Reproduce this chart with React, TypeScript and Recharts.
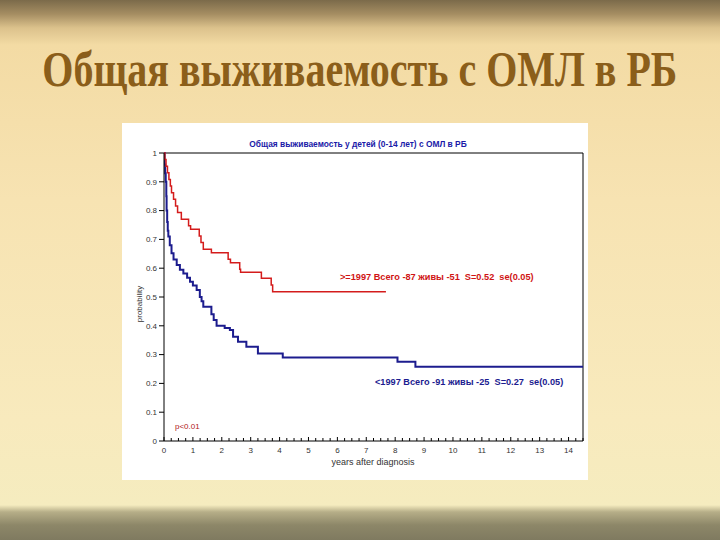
import React from 'react';
import { LineChart, Line, XAxis, YAxis, ReferenceLine } from 'recharts';

// >=1997 group (red), step survival estimates
const redYears = [0, 0.03, 0.07, 0.12, 0.17, 0.22, 0.26, 0.33, 0.4, 0.47, 0.6, 0.85, 0.92, 1.22, 1.28, 1.36, 1.64, 2.22, 2.3, 2.62, 2.65, 3.37, 3.71, 3.76, 7.68];
const redSurv = [1, 0.977, 0.954, 0.931, 0.908, 0.885, 0.862, 0.839, 0.816, 0.793, 0.77, 0.747, 0.735, 0.712, 0.689, 0.666, 0.654, 0.631, 0.619, 0.596, 0.586, 0.565, 0.542, 0.518, 0.518];

// <1997 group (blue)
const blueYears = [0, 0.02, 0.04, 0.06, 0.08, 0.09, 0.11, 0.13, 0.15, 0.2, 0.26, 0.33, 0.44, 0.55, 0.67, 0.8, 0.9, 1.0, 1.13, 1.24, 1.3, 1.36, 1.64, 1.72, 1.82, 2.1, 2.28, 2.39, 2.56, 2.85, 3.25, 4.11, 8.08, 8.7, 14.5];
const blueSurv = [1, 0.96, 0.93, 0.9, 0.85, 0.8, 0.76, 0.73, 0.71, 0.68, 0.652, 0.63, 0.611, 0.595, 0.582, 0.567, 0.553, 0.54, 0.524, 0.5, 0.485, 0.466, 0.44, 0.42, 0.4, 0.392, 0.385, 0.362, 0.345, 0.327, 0.304, 0.29, 0.275, 0.258, 0.258];

const xTicks = Array.from({ length: 59 }, (_, i) => i * 0.25);
const yTicks = [0, 0.1, 0.2, 0.3, 0.4, 0.5, 0.6, 0.7, 0.8, 0.9, 1];

const redData = redYears.map((t, i) => ({ t, s: redSurv[i] }));
const blueData = blueYears.map((t, i) => ({ t, s: blueSurv[i] }));

const sans = '"Liberation Sans", Arial, sans-serif';

const XTick = (props: any) => {
  const { x, y, payload } = props;
  const v = payload.value;
  const major = Number.isInteger(v);
  return (
    <g>
      <line x1={x} x2={x} y1={y} y2={y - (major ? 4 : 3)} stroke="#000" />
      {major && (
        <text x={x} y={y + 12} textAnchor="middle" fontSize={8} fill="#333" fontFamily={sans}>
          {v}
        </text>
      )}
    </g>
  );
};

const abs = (left: number, top: number, extra: React.CSSProperties = {}): React.CSSProperties => ({
  position: 'absolute',
  left,
  top,
  fontFamily: sans,
  whiteSpace: 'nowrap',
  lineHeight: 1,
  ...extra,
});

export default function App() {
  return (
    <div
      style={{
        position: 'fixed',
        left: 0,
        top: 0,
        width: 720,
        height: 540,
        overflow: 'hidden',
        background:
          'linear-gradient(to bottom, #7b6a4a 0px, #a58d62 14px, #dcc28c 28px, #f3dba4 45px, #f7e3b2 200px, #f8eabd 420px, #f5ecbf 505px, #b6ae88 512px, #8d8768 525px, #7f7a60 540px)',
      }}
    >
      <div style={{ position: 'absolute', left: 0, top: 44, width: 720, display: 'flex', justifyContent: 'center' }}>
        <span
          style={{
            flexShrink: 0,
            fontFamily: '"Liberation Serif", "Times New Roman", serif',
            fontWeight: 'bold',
            fontSize: 50,
            lineHeight: 1,
            color: '#8b5e1a',
            transform: 'scaleX(0.8)',
            transformOrigin: '50% 50%',
            whiteSpace: 'nowrap',
          }}
        >
          Общая выживаемость с ОМЛ в РБ
        </span>
      </div>

      <div style={{ position: 'absolute', left: 122, top: 123, width: 466, height: 357, background: '#fff' }}>
        <LineChart width={466} height={357} margin={{ top: 30, right: 5, bottom: 0, left: 0 }}>
          <XAxis
            dataKey="t"
            type="number"
            domain={[0, 14.5]}
            ticks={xTicks}
            interval={0}
            tickSize={0}
            tickMargin={0}
            tickLine={false}
            tick={<XTick />}
            stroke="#000"
            height={39}
            allowDataOverflow
          />
          <YAxis
            type="number"
            domain={[0, 1]}
            ticks={yTicks}
            interval={0}
            width={42}
            tickSize={5}
            tickMargin={2}
            stroke="#000"
            tick={{ fontSize: 8, fill: '#333', fontFamily: sans }}
            tickFormatter={(v: number) => (v === 0 || v === 1 ? String(v) : v.toFixed(1))}
          />
          <ReferenceLine y={1} stroke="#000" strokeWidth={1} />
          <ReferenceLine x={14.5} stroke="#000" strokeWidth={1} />
          <Line
            data={blueData}
            dataKey="s"
            type="stepAfter"
            stroke="#1c1c8e"
            strokeWidth={2}
            dot={false}
            isAnimationActive={false}
          />
          <Line
            data={redData}
            dataKey="s"
            type="stepAfter"
            stroke="#d41c1c"
            strokeWidth={1.5}
            dot={false}
            isAnimationActive={false}
          />
        </LineChart>

        <div style={abs(0, 17, { width: 472, textAlign: 'center', fontSize: 8.4, fontWeight: 'bold', color: '#1a1aa8' })}>
          Общая выживаемость у детей (0-14 лет) с ОМЛ в РБ
        </div>
        <div style={abs(218, 150, { fontSize: 9.2, fontWeight: 'bold', color: '#d01414' })}>
          &gt;=1997 Всего -87 живы -51&nbsp; S=0.52&nbsp; se(0.05)
        </div>
        <div style={abs(253, 255, { fontSize: 9.2, fontWeight: 'bold', color: '#1c1c90' })}>
          &lt;1997 Всего -91 живы -25&nbsp; S=0.27&nbsp; se(0.05)
        </div>
        <div style={abs(53, 300, { fontSize: 8, color: '#b02020' })}>p&lt;0.01</div>
        <div
          style={abs(18, 177, {
            fontSize: 8,
            color: '#333',
            transform: 'translate(-50%, 0) rotate(-90deg)',
          })}
        >
          probability
        </div>
        <div style={abs(0, 335, { width: 502, textAlign: 'center', fontSize: 9, color: '#333' })}>
          years after diagnosis
        </div>
      </div>
    </div>
  );
}
